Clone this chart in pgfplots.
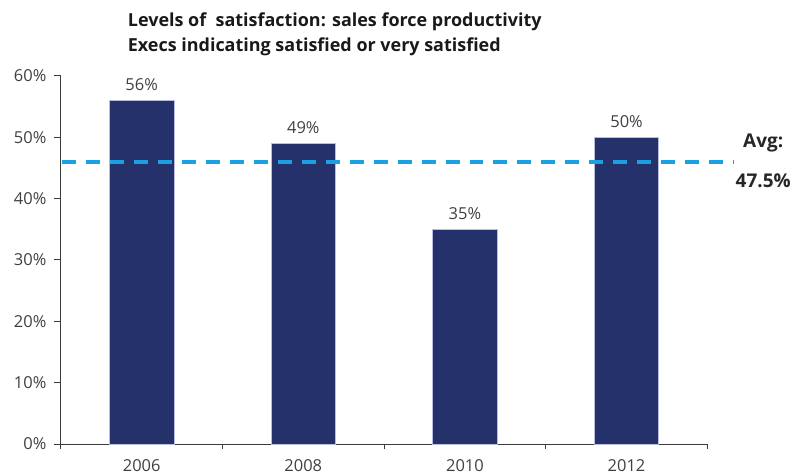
\documentclass[border=0pt]{standalone}
\usepackage{pgfplots}
\pgfplotsset{compat=1.18}
\usepackage{fontspec}
\setmainfont{Open Sans}
\definecolor{barblue}{RGB}{36,49,106}
\definecolor{baredge}{RGB}{185,190,225}
\definecolor{avgblue}{RGB}{27,161,226}
\definecolor{axisgray}{RGB}{60,60,60}
\definecolor{txtgray}{RGB}{64,64,64}
\begin{document}
\begin{tikzpicture}
\begin{axis}[
  at={(0pt,0pt)}, anchor=south west,
  scale only axis, width=648pt, height=369pt,
  xmin=-0.5, xmax=3.5, ymin=0, ymax=60,
  axis lines*=left,
  axis line style={axisgray, line width=0.8pt},
  xtick={0,1,2,3},
  xticklabels={2006,2008,2010,2012},
  major x tick style={draw=none},
  minor xtick={-0.5,0.5,1.5,2.5,3.5},
  minor x tick style={axisgray, line width=0.8pt},
  minor tick length=5pt,
  ytick={0,10,20,30,40,50,60},
  yticklabel={\pgfmathprintnumber{\tick}\%},
  y tick style={axisgray, line width=0.8pt},
  major tick length=7pt,
  tick align=outside,
  /pgf/number format/assume math mode=true,
  ticklabel style={font=\fontsize{16.5}{18}\selectfont, color=txtgray},
  xticklabel style={yshift=-5pt},
  yticklabel style={xshift=-4pt},
  clip=false,
]
\addplot[ybar, bar width=64.5pt, fill=barblue, draw=baredge, line width=0.6pt,
  nodes near coords={\pgfmathprintnumber{\pgfplotspointmeta}\%},
  nodes near coords style={font=\fontsize{16.5}{18}\selectfont, color=txtgray, anchor=south, yshift=6pt},
  point meta=explicit]
  coordinates {(0,56) [56] (1,49) [49] (2,35) [35] (3,50) [50]};
\addplot[avgblue, line width=3.8pt, dash pattern=on 14pt off 10pt, forget plot]
  coordinates {(-0.49,46) (3.66,46)};
\end{axis}
\node[anchor=north west, inner sep=0pt, align=left, font=\bfseries\fontsize{18}{25}\selectfont, text=black!90]
  at (67pt,432pt) {Levels of\ \ satisfaction: sales force productivity\\Execs indicating satisfied or very satisfied};
\node[font=\bfseries\fontsize{19}{22}\selectfont, text=black!85] at (704pt,302pt) {Avg:};
\node[font=\bfseries\fontsize{19}{22}\selectfont, text=black!85] at (704pt,264pt) {47.5\%};
\path[use as bounding box] (-61pt,-32pt) rectangle (733pt,445pt);
\end{tikzpicture}
\end{document}
